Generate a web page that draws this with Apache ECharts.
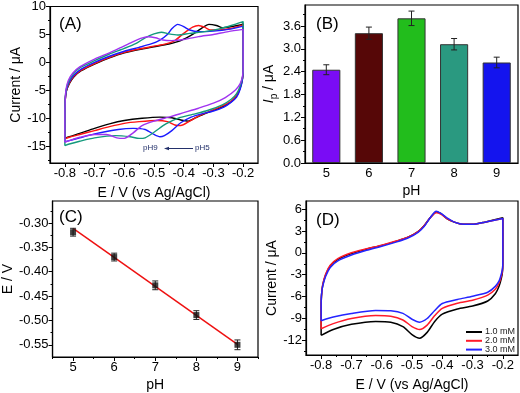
<!DOCTYPE html>
<html>
<head>
<meta charset="utf-8">
<script src="https://cdn.jsdelivr.net/npm/echarts@6/dist/echarts.min.js"></script>
<style>
  html, body { margin: 0; padding: 0; background: #fff; }
  #chart { width: 520px; height: 393px; }
</style>
</head>
<body>
<div id="chart"></div>
<script>
// ---- panel A : CVs at different pH ----
const cvPh5 = [[-0.8,-13.6],[-0.8,-10],[-0.799,-7],[-0.795,-5.2],[-0.785,-3.8],[-0.77,-2.6],[-0.745,-1.5],[-0.7,-0.3],[-0.65,0.8],[-0.6,1.7],[-0.55,2.3],[-0.5,2.8],[-0.45,3.3],[-0.41,3.9],[-0.37,5.0],[-0.34,6.1],[-0.315,6.8],[-0.29,6.6],[-0.27,6.2],[-0.24,6.4],[-0.21,6.7],[-0.2,6.9],[-0.2,3],[-0.2,-1],[-0.202,-2.8],[-0.209,-4.4],[-0.22,-5.8],[-0.235,-6.8],[-0.26,-7.7],[-0.3,-8.6],[-0.33,-9.2],[-0.36,-9.9],[-0.385,-10.5],[-0.41,-10.3],[-0.44,-9.9],[-0.48,-9.8],[-0.54,-10.0],[-0.6,-10.4],[-0.65,-11.0],[-0.7,-11.8],[-0.75,-12.7],[-0.785,-13.3],[-0.8,-13.6]];
const cvPh6 = [[-0.8,-13.7],[-0.8,-10],[-0.799,-7],[-0.795,-5.1],[-0.785,-3.7],[-0.77,-2.5],[-0.745,-1.4],[-0.7,-0.2],[-0.65,0.9],[-0.6,1.8],[-0.55,2.4],[-0.5,2.9],[-0.46,3.3],[-0.43,3.9],[-0.4,5.2],[-0.37,6.3],[-0.35,6.6],[-0.33,6.3],[-0.31,5.8],[-0.28,5.8],[-0.24,6.1],[-0.2,6.7],[-0.2,3],[-0.2,-1],[-0.202,-2.8],[-0.21,-4.5],[-0.222,-5.9],[-0.24,-6.9],[-0.27,-7.8],[-0.31,-8.7],[-0.35,-9.6],[-0.38,-10.5],[-0.41,-11.3],[-0.43,-11.2],[-0.455,-10.6],[-0.49,-10.4],[-0.55,-10.6],[-0.6,-10.9],[-0.65,-11.5],[-0.7,-12.2],[-0.75,-12.9],[-0.785,-13.4],[-0.8,-13.7]];
const cvPh7 = [[-0.8,-14.2],[-0.8,-10],[-0.799,-7],[-0.795,-5],[-0.785,-3.5],[-0.77,-2.3],[-0.745,-1.2],[-0.7,0.0],[-0.65,1.1],[-0.6,2.0],[-0.55,2.7],[-0.51,3.3],[-0.48,4.0],[-0.455,5.0],[-0.44,6.0],[-0.42,6.8],[-0.4,6.4],[-0.38,5.8],[-0.35,5.5],[-0.3,5.6],[-0.25,5.9],[-0.2,6.5],[-0.2,3],[-0.2,-1],[-0.202,-3],[-0.21,-4.8],[-0.222,-6.2],[-0.24,-7.1],[-0.265,-8.0],[-0.3,-8.7],[-0.34,-9.2],[-0.375,-9.8],[-0.41,-10.8],[-0.44,-12.2],[-0.465,-13.1],[-0.48,-13.3],[-0.5,-12.9],[-0.53,-12.0],[-0.57,-11.8],[-0.62,-12.0],[-0.7,-12.8],[-0.75,-13.5],[-0.785,-14.0],[-0.8,-14.2]];
const cvPh8 = [[-0.8,-14.9],[-0.8,-10],[-0.799,-7],[-0.796,-5],[-0.787,-3.4],[-0.772,-2.1],[-0.75,-1.0],[-0.7,0.3],[-0.65,1.5],[-0.6,2.5],[-0.56,3.4],[-0.53,4.4],[-0.5,5.1],[-0.475,5.4],[-0.45,5.1],[-0.42,4.9],[-0.38,5.2],[-0.33,5.5],[-0.28,6.0],[-0.24,6.6],[-0.2,7.3],[-0.2,3],[-0.2,-1],[-0.202,-2.6],[-0.21,-4.2],[-0.222,-5.6],[-0.24,-6.6],[-0.27,-7.6],[-0.32,-8.6],[-0.37,-9.3],[-0.42,-10.0],[-0.46,-11.0],[-0.5,-12.5],[-0.53,-13.5],[-0.55,-13.6],[-0.58,-13.3],[-0.63,-13.1],[-0.7,-13.5],[-0.75,-14.1],[-0.785,-14.6],[-0.8,-14.9]];
const cvPh9 = [[-0.8,-14.3],[-0.8,-10],[-0.799,-7],[-0.796,-4.8],[-0.788,-3.2],[-0.773,-1.9],[-0.75,-0.8],[-0.7,0.6],[-0.65,1.7],[-0.61,2.7],[-0.575,3.6],[-0.545,4.3],[-0.52,4.6],[-0.495,4.4],[-0.47,4.0],[-0.44,3.9],[-0.4,4.1],[-0.35,4.6],[-0.3,5.0],[-0.25,5.5],[-0.2,5.9],[-0.2,3],[-0.2,-1],[-0.202,-2.4],[-0.21,-3.8],[-0.225,-4.9],[-0.26,-6.3],[-0.3,-7.3],[-0.35,-8.2],[-0.4,-9.0],[-0.45,-9.8],[-0.5,-10.5],[-0.54,-11.3],[-0.57,-12.6],[-0.6,-13.6],[-0.625,-13.5],[-0.66,-12.9],[-0.7,-12.9],[-0.75,-13.4],[-0.785,-14.0],[-0.8,-14.3]];
const phNames = ['pH 5', 'pH 6', 'pH 7', 'pH 8', 'pH 9'];
const phColors = ['#000000', '#ff1414', '#1a1aff', '#139a7c', '#a033f0'];

// ---- panel B : peak current vs pH ----
const bPh = ['5', '6', '7', '8', '9'];
const bIp = [2.45, 3.41, 3.80, 3.12, 2.64];
const bErr = [0.13, 0.16, 0.19, 0.15, 0.14];
const bColors = ['#7a0cf5', '#560707', '#22bd1c', '#2a9980', '#1414ee'];

// ---- panel C : E vs pH ----
const cPh = [5, 6, 7, 8, 9];
const cE = [-0.319, -0.370, -0.428, -0.489, -0.550];
const cErr = [0.008, 0.008, 0.009, 0.009, 0.010];
const cFit = [[5, -0.311], [9, -0.549]];

// ---- panel D : CVs at different concentrations ----
const cv1mM = [[-0.8,-11.3],[-0.8,-8],[-0.799,-6],[-0.795,-4.5],[-0.785,-3.0],[-0.77,-1.8],[-0.745,-0.9],[-0.7,-0.1],[-0.65,0.5],[-0.6,1.0],[-0.55,1.6],[-0.51,2.2],[-0.48,2.9],[-0.46,3.7],[-0.44,4.8],[-0.42,5.6],[-0.405,5.4],[-0.385,4.7],[-0.36,4.2],[-0.33,3.9],[-0.3,3.9],[-0.26,4.2],[-0.2,4.8],[-0.2,2],[-0.2,-1],[-0.201,-2.5],[-0.205,-3.5],[-0.212,-4.5],[-0.225,-5.6],[-0.25,-6.6],[-0.3,-7.3],[-0.35,-7.7],[-0.4,-8.4],[-0.425,-9.4],[-0.45,-10.9],[-0.475,-11.7],[-0.5,-11.2],[-0.53,-10.1],[-0.57,-9.5],[-0.62,-9.4],[-0.7,-9.8],[-0.76,-10.5],[-0.8,-11.3]];
const cv2mM = [[-0.8,-10.4],[-0.8,-8],[-0.799,-6],[-0.795,-4.4],[-0.785,-2.9],[-0.77,-1.7],[-0.745,-0.8],[-0.7,0.0],[-0.65,0.55],[-0.6,1.05],[-0.55,1.65],[-0.51,2.2],[-0.48,2.9],[-0.46,3.7],[-0.44,4.8],[-0.42,5.5],[-0.405,5.3],[-0.385,4.7],[-0.36,4.2],[-0.33,3.9],[-0.3,3.9],[-0.26,4.2],[-0.2,4.7],[-0.2,2],[-0.2,-1],[-0.201,-2.3],[-0.205,-3.2],[-0.212,-4.1],[-0.225,-5.0],[-0.25,-5.8],[-0.3,-6.5],[-0.35,-6.9],[-0.4,-7.6],[-0.425,-8.6],[-0.45,-9.9],[-0.475,-10.5],[-0.5,-10.1],[-0.53,-9.2],[-0.57,-8.7],[-0.62,-8.6],[-0.7,-9.0],[-0.76,-9.7],[-0.8,-10.4]];
const cv3mM = [[-0.8,-9.3],[-0.8,-7],[-0.799,-5.8],[-0.795,-4.6],[-0.785,-3.2],[-0.77,-2.0],[-0.745,-1.1],[-0.7,-0.3],[-0.65,0.35],[-0.6,0.9],[-0.55,1.5],[-0.51,2.1],[-0.48,2.8],[-0.46,3.6],[-0.44,4.8],[-0.42,5.7],[-0.405,5.4],[-0.385,4.8],[-0.36,4.2],[-0.33,3.9],[-0.3,3.9],[-0.26,4.2],[-0.2,4.7],[-0.2,2],[-0.2,-1],[-0.201,-2.1],[-0.205,-2.9],[-0.212,-3.8],[-0.225,-4.6],[-0.25,-5.4],[-0.3,-5.95],[-0.35,-6.4],[-0.4,-6.95],[-0.425,-7.9],[-0.45,-9.0],[-0.475,-9.5],[-0.5,-9.1],[-0.53,-8.3],[-0.57,-7.95],[-0.62,-7.9],[-0.7,-8.3],[-0.76,-8.8],[-0.8,-9.3]];
const concNames = ['1.0 mM', '2.0 mM', '3.0 mM'];
const concColors = ['#000000', '#ff1a2a', '#2424ff'];

// tick labels
const cvXTicks = [-0.8, -0.7, -0.6, -0.5, -0.4, -0.3, -0.2];
const aYTicks = [-15, -10, -5, 0, 5, 10];
const bYTicks = [0, 0.6, 1.2, 1.8, 2.4, 3.0, 3.6];
const cXTicks = [5, 6, 7, 8, 9];
const cYTicks = [-0.55, -0.5, -0.45, -0.4, -0.35, -0.3];
const dYTicks = [-12, -9, -6, -3, 0, 3, 6];

const FONT = 'Liberation Sans, Arial, sans-serif';

function valueAxis (grid, min, max, ticks, digits, name, gap, pos) {
  return {
    type: 'value', gridIndex: grid, min: min, max: max, position: pos,
    name: name, nameLocation: 'middle', nameGap: gap,
    nameTextStyle: {fontFamily: FONT, fontSize: 14, color: '#000'},
    axisLine: {show: true, onZero: false, lineStyle: {color: '#000', width: 1.2}},
    axisTick: {show: true, length: 4, customValues: ticks, lineStyle: {color: '#000'}},
    axisLabel: {
      customValues: ticks, margin: 4, color: '#000', fontFamily: FONT, fontSize: 13,
      formatter: v => Number(v).toFixed(digits)
    },
    splitLine: {show: false}
  }
}

// companion axis that only draws the short minor ticks half way between majors
function minorAxis (grid, min, max, ticks, pos) {
  const step = ticks[1] - ticks[0]
  const minors = []
  for (let v = ticks[0] - step / 2; v <= max; v += step) {
    if (v >= min) minors.push(+v.toFixed(4))
  }
  return {
    type: 'value', gridIndex: grid, min: min, max: max, position: pos, offset: 0,
    axisLine: {show: false, onZero: false},
    axisTick: {show: true, length: 2, customValues: minors, lineStyle: {color: '#000'}},
    axisLabel: {show: false},
    splitLine: {show: false}
  }
}

function errorBars (params, api) {
  const x = api.value(0)
  const top = api.coord([x, api.value(2)])
  const bot = api.coord([x, api.value(1)])
  const w = 3
  const st = {stroke: '#222', lineWidth: 1}
  return {
    type: 'group',
    children: [
      {type: 'line', shape: {x1: top[0], y1: top[1], x2: bot[0], y2: bot[1]}, style: st},
      {type: 'line', shape: {x1: top[0] - w, y1: top[1], x2: top[0] + w, y2: top[1]}, style: st},
      {type: 'line', shape: {x1: bot[0] - w, y1: bot[1], x2: bot[0] + w, y2: bot[1]}, style: st}
    ]
  }
}

const frame = {show: true, borderColor: '#000', borderWidth: 1.2, backgroundColor: 'transparent'}

const series = []
;[cvPh5, cvPh6, cvPh7, cvPh8, cvPh9].forEach((d, i) => {
  series.push({
    type: 'line', name: phNames[i], xAxisIndex: 0, yAxisIndex: 0, data: d,
    showSymbol: false, smooth: 0.25, lineStyle: {color: phColors[i], width: 1.4},
    itemStyle: {color: phColors[i]}, z: 2 + i
  })
})
series.push({
  type: 'bar', name: 'Ip', xAxisIndex: 1, yAxisIndex: 1, barWidth: '66%',
  data: bIp.map((v, i) => ({value: v, itemStyle: {color: bColors[i]}})),
  itemStyle: {borderColor: '#333', borderWidth: 1}
})
series.push({
  type: 'custom', name: 'Ip err', xAxisIndex: 1, yAxisIndex: 1,
  data: bIp.map((v, i) => [i, v - bErr[i], v + bErr[i]]),
  renderItem: errorBars, encode: {x: 0, y: [1, 2]}, z: 5
})
series.push({
  type: 'line', name: 'fit', xAxisIndex: 2, yAxisIndex: 2, data: cFit,
  showSymbol: false, lineStyle: {color: '#ee1111', width: 1.5}
})
series.push({
  type: 'custom', name: 'E err', xAxisIndex: 2, yAxisIndex: 2,
  data: cPh.map((p, i) => [p, cE[i] - cErr[i], cE[i] + cErr[i]]),
  renderItem: errorBars, encode: {x: 0, y: [1, 2]}, z: 4
})
series.push({
  type: 'scatter', name: 'E', xAxisIndex: 2, yAxisIndex: 2,
  data: cPh.map((p, i) => [p, cE[i]]),
  symbol: 'rect', symbolSize: 6, itemStyle: {color: '#111'}, z: 5
})
;[cv1mM, cv2mM, cv3mM].forEach((d, i) => {
  series.push({
    type: 'line', name: concNames[i], xAxisIndex: 3, yAxisIndex: 3, data: d,
    showSymbol: false, smooth: 0.25, lineStyle: {color: concColors[i], width: 1.5},
    itemStyle: {color: concColors[i]}, z: 2 + i
  })
})

const chart = echarts.init(document.getElementById('chart'))
chart.setOption({
  animation: false,
  backgroundColor: '#fff',
  textStyle: {fontFamily: FONT},
  title: [
    {text: '(A)', left: 54, top: 11},
    {text: '(B)', left: 311, top: 11},
    {text: '(C)', left: 54, top: 204},
    {text: '(D)', left: 311, top: 207}
  ].map(t => Object.assign(t, {textStyle: {fontFamily: FONT, fontSize: 17, fontWeight: 'normal', color: '#000'}})),
  grid: [
    Object.assign({left: 50, top: 6, width: 208, height: 157}, frame),
    Object.assign({left: 305, top: 5, width: 213, height: 158}, frame),
    Object.assign({left: 50, top: 201, width: 208, height: 157}, frame),
    Object.assign({left: 306, top: 201, width: 212, height: 157}, frame)
  ],
  xAxis: [
    valueAxis(0, -0.85, -0.15, cvXTicks, 1, 'E / V (vs Ag/AgCl)', 23, 'bottom'),
    {
      type: 'category', gridIndex: 1, data: bPh, position: 'bottom',
      name: 'pH', nameLocation: 'middle', nameGap: 21,
      nameTextStyle: {fontFamily: FONT, fontSize: 14, color: '#000'},
      axisLine: {lineStyle: {color: '#000', width: 1.2}},
      axisTick: {alignWithLabel: true, length: 4, lineStyle: {color: '#000'}},
      axisLabel: {margin: 4, color: '#000', fontFamily: FONT, fontSize: 13}
    },
    valueAxis(2, 4.5, 9.5, cXTicks, 0, 'pH', 21, 'bottom'),
    valueAxis(3, -0.85, -0.15, cvXTicks, 1, 'E / V (vs Ag/AgCl)', 23, 'bottom'),
    minorAxis(0, -0.85, -0.15, cvXTicks, 'bottom'),
    minorAxis(2, 4.5, 9.5, cXTicks, 'bottom'),
    minorAxis(3, -0.85, -0.15, cvXTicks, 'bottom')
  ],
  yAxis: [
    valueAxis(0, -18, 10, aYTicks, 0, 'Current / μA', 24, 'left'),
    Object.assign(valueAxis(1, 0, 4.15, bYTicks, 1, '{i|I}{s|p} / μA', 23, 'left'), {
      nameTextStyle: {
        fontFamily: FONT, fontSize: 14, color: '#000',
        rich: {i: {fontStyle: 'italic', fontSize: 14}, s: {fontSize: 10, verticalAlign: 'bottom', lineHeight: 20}}
      }
    }),
    valueAxis(2, -0.575, -0.255, cYTicks, 2, 'E / V', 36, 'left'),
    valueAxis(3, -14, 7.1, dYTicks, 0, 'Current / μA', 18, 'left'),
    minorAxis(0, -18, 10, aYTicks, 'left'),
    minorAxis(1, 0, 4.15, bYTicks, 'left'),
    minorAxis(2, -0.575, -0.255, cYTicks, 'left'),
    minorAxis(3, -14, 7.1, dYTicks, 'left')
  ],
  legend: {
    data: concNames, orient: 'vertical', left: 461, top: 322,
    icon: 'rect', itemWidth: 16, itemHeight: 2, itemGap: -1.2,
    textStyle: {fontFamily: FONT, fontSize: 9, color: '#222', lineHeight: 10, padding: [0, 0, 0, -2]}
  },
  graphic: [
    {type: 'text', left: 143, top: 144, style: {text: 'pH9', font: '8px ' + FONT, fill: '#23306a'}},
    {type: 'line', shape: {x1: 193, y1: 148.5, x2: 167, y2: 148.5}, style: {stroke: '#23306a', lineWidth: 1}},
    {type: 'polygon', shape: {points: [[164, 148.5], [169, 146.8], [169, 150.2]]}, style: {fill: '#23306a'}},
    {type: 'text', left: 195, top: 144, style: {text: 'pH5', font: '8px ' + FONT, fill: '#23306a'}}
  ],
  series: series
})
</script>
</body>
</html>
